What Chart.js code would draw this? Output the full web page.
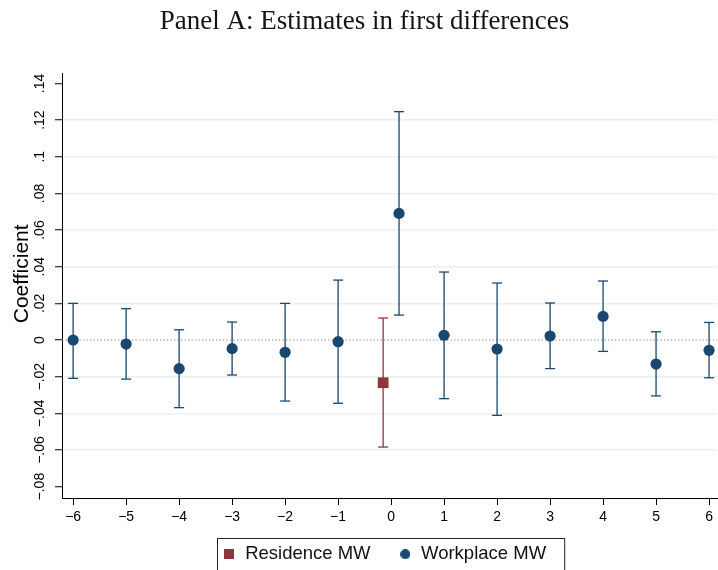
<!DOCTYPE html>
<html>
<head>
<meta charset="utf-8">
<script src="https://cdn.jsdelivr.net/npm/chart.js@4.4.1/dist/chart.umd.min.js"></script>
<style>
  html, body { margin: 0; padding: 0; background: #ffffff; }
  #wrap { width: 718px; height: 570px; }
</style>
</head>
<body>
<div id="wrap"><canvas id="coefChart" width="718" height="570"></canvas></div>
<script>
// event-time lags
const lags = [-6, -5, -4, -3, -2, -1, 0, 1, 2, 3, 4, 5, 6];

// Workplace MW: point estimates and 95% CI
const workCoef = [0.000, -0.0022, -0.0156, -0.0047, -0.0067, -0.0009, 0.0691, 0.0026, -0.0049, 0.0022, 0.0129, -0.0131, -0.0056];
const workLo   = [-0.0209, -0.0213, -0.0369, -0.0191, -0.0333, -0.0345, 0.0136, -0.0320, -0.0411, -0.0156, -0.0062, -0.0305, -0.0206];
const workHi   = [0.0200, 0.0171, 0.0056, 0.0098, 0.0200, 0.0327, 0.1246, 0.0371, 0.0311, 0.0202, 0.0322, 0.0045, 0.0096];

// Residence MW: only estimated at lag 0
const resLags = [0];
const resCoef = [-0.0233];
const resLo   = [-0.0584];
const resHi   = [0.0120];

// axis ticks
const xTickValues = [-6, -5, -4, -3, -2, -1, 0, 1, 2, 3, 4, 5, 6];
const yTickValues = [-0.08, -0.06, -0.04, -0.02, 0, 0.02, 0.04, 0.06, 0.08, 0.10, 0.12, 0.14];

const navy = "#1a476f";
const cranberry = "#90353b";
const dodge = 0.15;
const sans = "'Liberation Sans', Arial, sans-serif";

// shift markers apart where both series share a lag
function workPos(lag){
    return resLags.includes(lag) ? lag + dodge : lag;
}
function resPos(lag){
    return lag - dodge;
}

function pointData(xs, ys, posFn){
    return xs.map((x, i) => ({x: posFn(x), y: ys[i]}));
}

function ciData(xs, lo, hi, posFn){
    let out = [];
    xs.forEach((x, i) => {
        out.push({x: posFn(x), y: lo[i]});
        out.push({x: posFn(x), y: hi[i]});
        out.push({x: posFn(x), y: null});
    });
    return out;
}

function fmtY(v){
    if (Math.abs(v) < 1e-9) return "0";
    let s = String(Number(Math.abs(v).toFixed(2))).replace(/^0\./, ".");
    return (v < 0 ? "\u2212" : "") + s;
}

function fmtX(v){
    return (v < 0 ? "\u2212" : "") + Math.abs(v);
}

// small legend swatches so square and circle get the same size
function swatch(shape, color, size){
    const c = document.createElement("canvas");
    c.width = size;
    c.height = size;
    const g = c.getContext("2d");
    g.fillStyle = color;
    if (shape === "rect"){
        g.fillRect(0, 0, size, size);
    } else {
        g.beginPath();
        g.arc(size / 2, size / 2, size / 2, 0, Math.PI * 2);
        g.fill();
    }
    return c;
}
const legendSwatches = {
    "Residence MW": swatch("rect", cranberry, 10),
    "Workplace MW": swatch("circle", navy, 10)
};

const hiddenGrid = [-0.08, 0, 0.14];

const zeroLine = {
    id: "zeroLine",
    beforeDatasetsDraw(chart){
        const {ctx, chartArea, scales} = chart;
        const y = scales.y.getPixelForValue(0);
        ctx.save();
        ctx.strokeStyle = "#7d8b90";
        ctx.lineWidth = 1.2;
        ctx.setLineDash([1.3, 2.2]);
        ctx.beginPath();
        ctx.moveTo(chartArea.left, y);
        ctx.lineTo(chartArea.right, y);
        ctx.stroke();
        ctx.restore();
    }
};

// centre title and legend over the plot region, frame the legend
const legendFrame = {
    id: "legendFrame",
    afterLayout(chart){
        chart.legend.left = chart.chartArea.left - 10;
        chart.titleBlock.left = 12;
    },
    afterDraw(chart){
        const boxes = chart.legend.legendHitBoxes;
        if (!boxes || !boxes.length) return;
        const left = Math.min(...boxes.map(b => b.left)) - 6;
        const right = Math.max(...boxes.map(b => b.left + b.width)) + 18;
        const top = boxes[0].top - 7.3;
        const ctx = chart.ctx;
        ctx.save();
        ctx.strokeStyle = "#222222";
        ctx.lineWidth = 1;
        ctx.strokeRect(Math.round(left) + 0.5, Math.round(top) + 0.5, right - left, 60);
        ctx.restore();
    }
};

new Chart("coefChart", {
    type: "scatter",
    data: {
        datasets: [
            {
                label: "Residence MW",
                data: pointData(resLags, resCoef, resPos),
                backgroundColor: cranberry,
                borderColor: cranberry,
                pointStyle: "rect",
                pointRadius: 7.6,
                pointHoverRadius: 7.6,
                borderWidth: 0
            },
            {
                label: "Workplace MW",
                data: pointData(lags, workCoef, workPos),
                backgroundColor: navy,
                borderColor: navy,
                pointStyle: "circle",
                pointRadius: 5.6,
                pointHoverRadius: 5.6,
                borderWidth: 0
            },
            {
                label: "ci_res",
                type: "line",
                data: ciData(resLags, resLo, resHi, resPos),
                borderColor: cranberry,
                borderWidth: 1.3,
                spanGaps: false,
                pointStyle: "line",
                pointRadius: 5,
                pointBorderWidth: 1.3,
                pointBorderColor: cranberry
            },
            {
                label: "ci_work",
                type: "line",
                data: ciData(lags, workLo, workHi, workPos),
                borderColor: navy,
                borderWidth: 1.3,
                spanGaps: false,
                pointStyle: "line",
                pointRadius: 5,
                pointBorderWidth: 1.3,
                pointBorderColor: navy
            }
        ]
    },
    options: {
        responsive: false,
        animation: false,
        layout: {
            autoPadding: false,
            // legend box runs off the bottom edge, as in the original
            padding: {left: 0, right: 1, top: 0, bottom: -3.5}
        },
        plugins: {
            title: {
                display: true,
                text: "Panel A: Estimates in first differences",
                color: "#151515",
                font: {family: "'Liberation Serif', 'Times New Roman', serif", size: 27, weight: "normal"},
                padding: {top: 5.5, bottom: 35.1}
            },
            legend: {
                display: true,
                position: "bottom",
                labels: {
                    generateLabels: chart => {
                        const items = Chart.defaults.plugins.legend.labels.generateLabels(chart)
                            .filter(item => !item.text.startsWith("ci_"));
                        // wider gap between legend entries
                        return items.map((item, i) => Object.assign(item, {
                            pointStyle: legendSwatches[item.text],
                            text: i < items.length - 1 ? item.text + "     " : item.text
                        }));
                    },
                    usePointStyle: true,
                    pointStyleWidth: 13,
                    boxHeight: 10,
                    color: "#111111",
                    padding: 2.5,
                    font: {family: sans, size: 18.5}
                }
            },
            tooltip: {enabled: false}
        },
        scales: {
            x: {
                type: "linear",
                min: -6.21,
                max: 6.15,
                afterBuildTicks: scale => { scale.ticks = xTickValues.map(v => ({value: v})); },
                afterFit: scale => {
                    scale.height = 44.5;
                    scale.paddingLeft = 0;
                    scale.paddingRight = 0;
                },
                grid: {
                    drawOnChartArea: false,
                    tickLength: 7,
                    tickColor: "#000000",
                    tickWidth: 1
                },
                border: {display: true, color: "#000000", width: 1},
                ticks: {
                    callback: v => fmtX(v),
                    color: "#000000",
                    padding: 4,
                    maxRotation: 0,
                    autoSkip: false,
                    font: {family: sans, size: 14}
                }
            },
            y: {
                type: "linear",
                min: -0.0862,
                max: 0.1457,
                afterBuildTicks: scale => { scale.ticks = yTickValues.map(v => ({value: v})); },
                afterFit: scale => {
                    scale.width = 62;
                    scale.paddingTop = 0;
                    scale.paddingBottom = 0;
                },
                grid: {
                    color: ctx => (ctx.tick && hiddenGrid.some(h => Math.abs(h - ctx.tick.value) < 1e-6)) ? "rgba(0,0,0,0)" : "#e8eff1",
                    lineWidth: 1.5,
                    tickLength: 7,
                    tickColor: "#000000",
                    tickWidth: 1
                },
                border: {display: true, color: "#000000", width: 1},
                title: {
                    display: true,
                    text: "    Coefficient",
                    color: "#000000",
                    font: {family: sans, size: 21},
                    padding: {top: 9.4, bottom: 0}
                },
                ticks: {
                    callback: v => fmtY(v),
                    color: "#000000",
                    minRotation: 90,
                    maxRotation: 90,
                    crossAlign: "center",
                    padding: 1,
                    autoSkip: false,
                    font: {family: sans, size: 14}
                }
            }
        }
    },
    plugins: [zeroLine, legendFrame]
});
</script>
</body>
</html>
